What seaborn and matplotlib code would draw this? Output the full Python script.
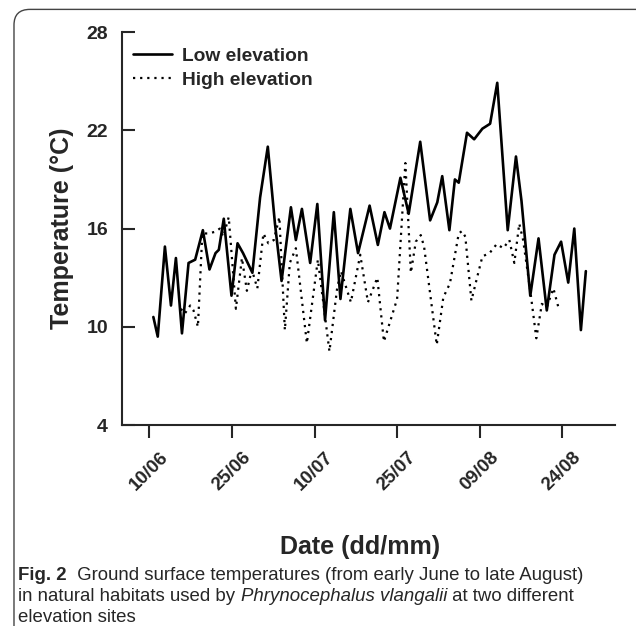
import numpy as np
import pandas as pd
import matplotlib
matplotlib.use("Agg")
import matplotlib.pyplot as plt
from matplotlib.patches import FancyBboxPatch
import seaborn as sns

# readings taken off the figure: days after 10 June, temperature in degC
low_day = [0.7, 1.5, 2.8, 3.9, 4.8, 5.9, 7.1, 8.3, 9.7, 10.9, 12.0, 12.6, 13.5,
           14.9, 16.0, 17.0, 18.7, 20.1, 21.5, 22.8, 24.0, 25.7, 26.6, 27.7,
           29.2, 30.5, 31.9, 33.5, 34.7, 36.5, 37.9, 40.0, 41.5, 42.7, 43.7,
           45.6, 47.1, 49.2, 51.0, 52.3, 53.2, 54.5, 55.5, 56.2, 57.7, 59.0,
           60.5, 61.9, 63.2, 65.1, 66.6, 67.6, 69.2, 70.7, 72.2, 73.6, 74.8,
           76.1, 77.2, 78.4, 79.3]
low_temp = [10.6, 9.4, 14.9, 11.3, 14.2, 9.6, 13.9, 14.1, 15.9, 13.5, 14.5, 14.7,
            16.6, 11.9, 15.1, 14.5, 13.3, 17.9, 21.0, 16.3, 12.8, 17.3, 15.3,
            17.2, 13.9, 17.5, 10.4, 17.0, 11.7, 17.2, 14.5, 17.4, 15.0, 17.0,
            16.0, 19.1, 16.9, 21.3, 16.5, 17.6, 19.2, 15.9, 19.0, 18.8, 21.85,
            21.45, 22.1, 22.4, 24.9, 15.9, 20.4, 17.7, 11.9, 15.4, 11.0, 14.4,
            15.2, 12.7, 16.0, 9.8, 13.4]

high_day = [5.7, 6.4, 7.4, 8.0, 8.8, 9.6, 10.7, 11.9, 12.8, 13.4, 14.4, 15.7,
            16.8, 17.7, 18.6, 19.6, 20.7, 21.6, 22.6, 23.6, 24.6, 25.5, 26.6,
            28.6, 30.6, 32.7, 34.1, 34.8, 36.6, 38.3, 39.7, 41.4, 42.6, 45.0,
            46.5, 47.5, 48.4, 49.3, 49.9, 52.2, 53.4, 54.6, 56.2, 56.8, 57.4,
            58.5, 59.6, 60.5, 61.8, 63.1, 64.3, 65.4, 66.3, 67.2, 67.9, 69.2,
            70.3, 71.3, 72.2, 73.4, 74.3]
high_temp = [11.1, 10.8, 11.3, 11.0, 10.0, 15.7, 15.7, 15.8, 16.0, 15.5, 16.7,
             11.1, 14.2, 12.2, 13.5, 12.35, 15.7, 15.1, 15.3, 16.7, 9.8, 13.9,
             14.8, 9.0, 14.1, 8.5, 12.35, 13.4, 11.5, 14.4, 11.5, 13.0, 9.1,
             11.7, 20.0, 13.3, 15.2, 15.6, 14.9, 8.9, 11.8, 12.65, 15.7, 15.85,
             15.5, 11.6, 13.1, 14.3, 14.5, 15.05, 14.8, 15.3, 13.9, 16.3, 15.3,
             12.2, 9.3, 11.4, 11.2, 12.35, 11.2]

tick_labels = ["10/06", "25/06", "10/07", "25/07", "09/08", "24/08"]
y_ticks = [4, 10, 16, 22, 28]

start = pd.Timestamp("2014-06-10")
low = pd.DataFrame({"date": start + pd.to_timedelta(low_day, unit="D"), "temp": low_temp})
high = pd.DataFrame({"date": start + pd.to_timedelta(high_day, unit="D"), "temp": high_temp})
tick_dates = pd.to_datetime([t + "/2014" for t in tick_labels], format="%d/%m/%Y")

sns.set_style("ticks")
plt.rcParams["font.family"] = ["Liberation Sans", "DejaVu Sans"]

fig = plt.figure(figsize=(6.36, 6.26), dpi=100)
ax = fig.add_axes([0.1918, 0.321, 0.7752, 0.6278])

sns.lineplot(data=low, x="date", y="temp", ax=ax, color="black", lw=1.9,
             estimator=None, sort=False, label="Low elevation")
sns.lineplot(data=high, x="date", y="temp", ax=ax, color="black", lw=1.6,
             ls=(0, (1, 2.2)), estimator=None, sort=False, label="High elevation")

ax.set_xlim(start - pd.Timedelta(days=5.0), start + pd.Timedelta(days=84.6))
ax.set_ylim(4, 28)
ax.set_yticks(y_ticks)
ax.set_xticks(tick_dates)
ax.set_xticklabels(tick_labels, rotation=45, ha="center", fontweight="bold", fontsize=13.5)
ax.set_yticklabels([str(v) for v in y_ticks], fontweight="bold", fontsize=14)

sns.despine(ax=ax)
for s in ["left", "bottom"]:
    ax.spines[s].set_linewidth(1.5)
ax.tick_params(axis="y", direction="in", length=9, width=1.5, pad=10)
ax.tick_params(axis="x", direction="out", length=9, width=1.5, pad=8)

ax.set_xlabel("Date (dd/mm)", fontsize=18, fontweight="bold")
ax.set_ylabel("Temperature (\u00b0C)", fontsize=18, fontweight="bold")
ax.xaxis.set_label_coords(0.483, -0.28)
ax.yaxis.set_label_coords(-0.097, 0.5)

leg = ax.legend(loc="upper left", bbox_to_anchor=(-0.012, 1.005), frameon=False,
                handlelength=2.0, handletextpad=0.55, labelspacing=0.35,
                prop={"weight": "bold", "size": 13.8})

# caption box with rounded corner, cut at the right edge
box = FancyBboxPatch((0.022, -0.05), 1.2, 1.035, boxstyle="round,pad=0,rounding_size=0.025",
                     transform=fig.transFigure, fill=False, ec="#444444", lw=1.0,
                     clip_on=False)
fig.add_artist(box)

cap_size = 13.4
base_y = 1 - 580 / 626
step = 21 / 626
t1 = fig.text(0.029, base_y, "Fig. 2", fontsize=cap_size, fontweight="bold", va="baseline")
ax.annotate("  Ground surface temperatures (from early June to late August)",
            xy=(1, 0), xycoords=t1, va="bottom", fontsize=cap_size,
            annotation_clip=False)
t2 = fig.text(0.029, base_y - step, "in natural habitats used by ", fontsize=cap_size,
              va="baseline")
t3 = ax.annotate("Phrynocephalus vlangalii", xy=(1, 0), xycoords=t2, va="bottom",
                 fontsize=cap_size, fontstyle="italic", annotation_clip=False)
ax.annotate(" at two different", xy=(1, 0), xycoords=t3, va="bottom",
            fontsize=cap_size, annotation_clip=False)
fig.text(0.029, base_y - 2 * step, "elevation sites", fontsize=cap_size, va="baseline")

fig.savefig("out.png", dpi=100)
